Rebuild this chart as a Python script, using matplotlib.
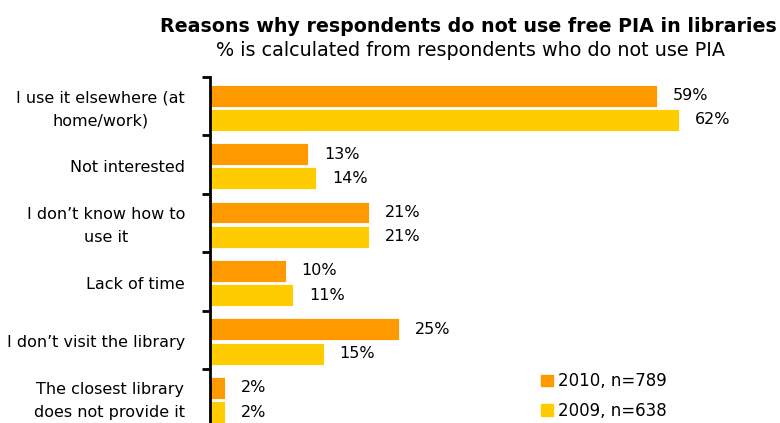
import matplotlib
matplotlib.use('Agg')
import matplotlib.pyplot as plt
from matplotlib.patches import Rectangle
import numpy as np

plt.rcParams.update({
    'font.family': 'DejaVu Sans',
    'font.size': 11,
})

CATEGORIES = [
    "I use it elsewhere (at\nhome/work)",
    "Not interested",
    "I don\u2019t know how to\nuse it",
    "Lack of time",
    "I don\u2019t visit the library",
    "The closest library\ndoes not provide it",
]
VALUES_2010 = [59, 13, 21, 10, 25, 2]
VALUES_2009 = [62, 14, 21, 11, 15, 2]
SERIES_LABELS = ["2010, n=789", "2009, n=638"]

ORANGE = "#FF9900"
YELLOW = "#FFCC00"
PX_PER_PCT = 7.57

fig = plt.figure(figsize=(7.8, 4.23), dpi=100)
# axes runs slightly past the bottom edge, so the last category is clipped
ax = fig.add_axes([210 / 780, -4.5 / 423, 570 / 780, 350.5 / 423])

y = np.arange(len(CATEGORIES))
bar_h = 0.375
ax.barh(y - 0.18, VALUES_2010, height=bar_h, color=ORANGE, edgecolor='white', linewidth=0.6)
ax.barh(y + 0.235, VALUES_2009, height=bar_h, color=YELLOW, edgecolor='white', linewidth=0.6)

for yi, v in zip(y, VALUES_2010):
    ax.annotate(f"{v}%", (v, yi - 0.18), xytext=(16, 0), textcoords='offset pixels',
                ha='left', va='center', fontsize=11.5)
for yi, v in zip(y, VALUES_2009):
    ax.annotate(f"{v}%", (v, yi + 0.235), xytext=(16, 0), textcoords='offset pixels',
                ha='left', va='center', fontsize=11.5)

ax.set_xlim(0, 570 / PX_PER_PCT)
ax.set_ylim(len(CATEGORIES) - 0.5, -0.5)

for s in ['top', 'right', 'bottom']:
    ax.spines[s].set_visible(False)
ax.spines['left'].set_linewidth(2)
ax.set_xticks([])
ax.set_yticks(np.arange(len(CATEGORIES) + 1) - 0.5)
ax.set_yticklabels([])
ax.tick_params(axis='y', length=6, width=2, direction='out')

for yi, lab in zip(y, CATEGORIES):
    ax.text(-25 / PX_PER_PCT, yi + 0.05, lab, ha='right', va='center', fontsize=11.5,
            multialignment='center', linespacing=1.65)

handles = [Rectangle((0, 0), 1, 1, color=ORANGE), Rectangle((0, 0), 1, 1, color=YELLOW)]
fig.legend(handles, SERIES_LABELS, loc='center left', bbox_to_anchor=(526 / 780, 1 - 396 / 423),
           frameon=False, fontsize=12, handlelength=0.7, handleheight=0.7,
           handletextpad=0.35, labelspacing=0.7)

fig.text(468 / 780, 1 - 26 / 423, "Reasons why respondents do not use free PIA in libraries",
         ha='center', va='center', fontsize=13.7, fontweight='bold')
fig.text(470 / 780, 1 - 51 / 423, "% is calculated from respondents who do not use PIA",
         ha='center', va='center', fontsize=13.8)

fig.savefig('out.png', dpi=100)
